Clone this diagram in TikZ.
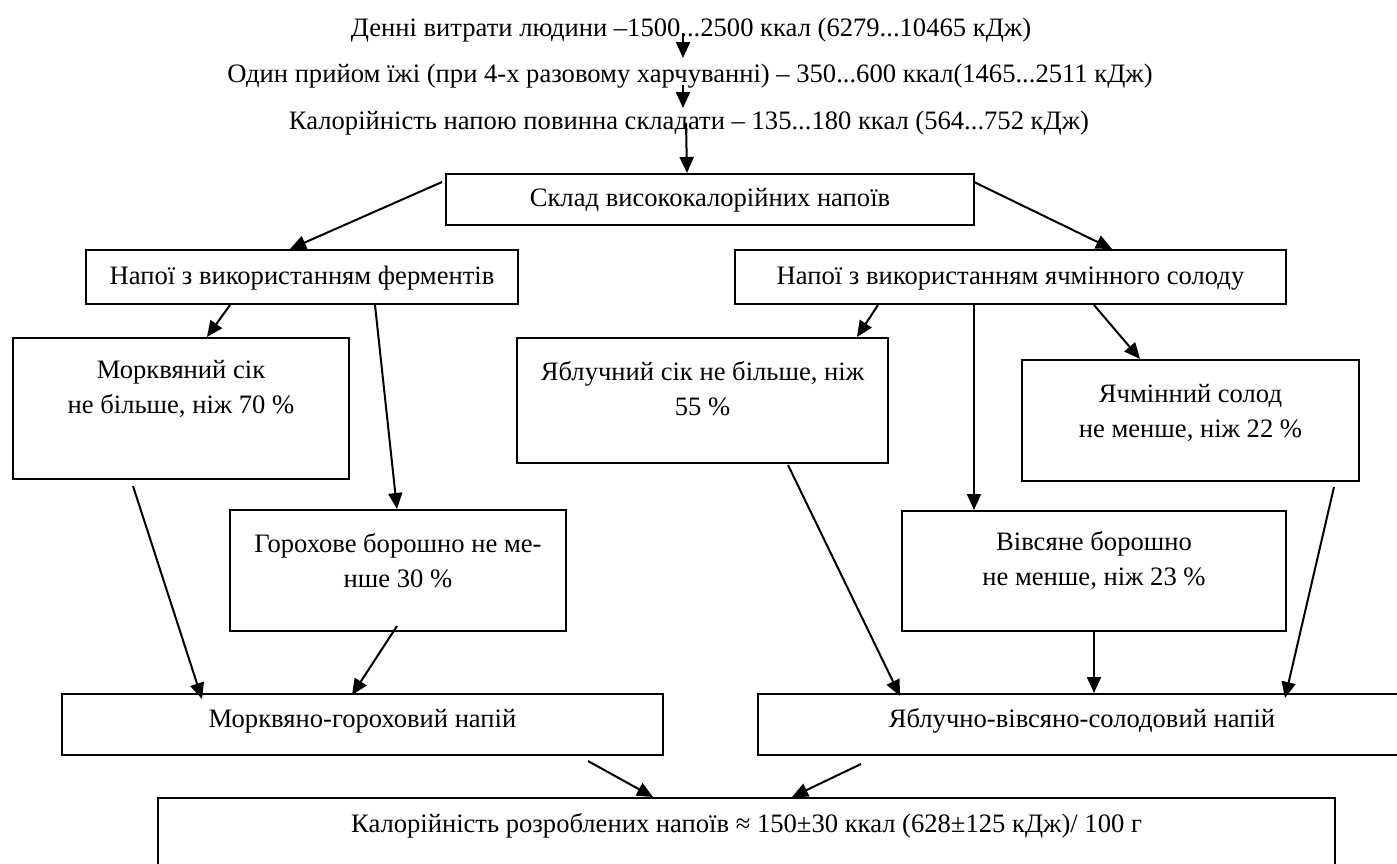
\documentclass[tikz,border=0pt]{standalone}
\usepackage{fontspec}
\setmainfont{Liberation Serif}
\usetikzlibrary{arrows.meta,calc}
\newcommand\dn[1]{\rule[-#1pt]{0pt}{#1pt}}
\begin{document}
\begin{tikzpicture}[x=1pt,y=-1pt,
  basefont/.style={font=\fontsize{26.6}{35}\selectfont, execute at begin node=\strut, execute at end node=\strut},
  box/.style={basefont, draw, line width=2pt, inner sep=0pt, anchor=north west, align=center},
  txt/.style={basefont, inner sep=0pt},
  arr/.style={line width=2pt, -{Triangle[length=16pt,width=14pt]}}]
\useasboundingbox (0,0) rectangle (1397,863);

% top text lines
\node[txt] (t1) at (691,29) {Денні витрати людини –1500...2500 ккал (6279...10465 кДж)};
\node[txt] (t2) at (690,75) {Один прийом їжі (при 4-х разовому харчуванні) – 350...600 ккал(1465...2511 кДж)};
\node[txt] (t3) at (689,122) {Калорійність напою повинна складати – 135...180 ккал (564...752 кДж)};

% boxes
\node[box, minimum width=528, minimum height=51] (skl) at (445,173) {Склад висококалорійних напоїв};
\node[box, minimum width=432, minimum height=54] (ferm) at (85,249) {Напої з використанням ферментів};
\node[box, minimum width=551, minimum height=54] (sol) at (734,249) {Напої з використанням ячмінного солоду};
\node[box, minimum width=336, minimum height=141] (mork) at (12,337) {Морквяний сік\\не більше, ніж 70 \%\dn{44}};
\node[box, minimum width=371, minimum height=125] (yabl) at (516,337) {Яблучний сік не більше, ніж\\55 \%\dn{24}};
\node[box, minimum width=337, minimum height=121] (yachm) at (1021,359) {Ячмінний солод\\не менше, ніж 22 \%\dn{20}};
\node[box, minimum width=336, minimum height=121] (gor) at (229,509) {Горохове борошно не ме-\\нше 30 \%\dn{20}};
\node[box, minimum width=384, minimum height=120] (vivs) at (901,510) {Вівсяне борошно\\не менше, ніж 23 \%\dn{25}};
\node[box, minimum width=601, minimum height=61] (mg) at (61,693) {Морквяно-гороховий напій\dn{18}};
\node[box, minimum width=648, minimum height=61] (yvs) at (757,693) {Яблучно-вівсяно-солодовий напій\dn{18}};
\node[box, minimum width=1177, minimum height=80] (kal) at (157,797) {Калорійність розроблених напоїв ≈ 150±30 ккал (628±125 кДж)/ 100 г\dn{36}};

% connectors
\draw[arr] ($(t1.center)+(-8,4)$) -- ($(t2.center)+(-7,-17)$);
\draw[arr] ($(t2.center)+(-7,10)$) -- ($(t3.center)+(-6,-14)$);
\draw[arr] ($(t3.center)+(-3,1)$) -- ($(skl.north)+(-23,0)$);
\draw[arr] ($(skl.north west)+(-3,9)$) -- ($(ferm.north west)+(205,0)$);
\draw[arr] ($(skl.north east)+(-1,9)$) -- ($(sol.north west)+(378,0)$);
\draw[arr] ($(ferm.south west)+(145,0)$) -- ($(mork.north west)+(195,0)$);
\draw[arr] ($(ferm.south west)+(290,0)$) -- ($(gor.north west)+(168,0)$);
\draw[arr] ($(sol.south west)+(144,0)$) -- ($(yabl.north west)+(341,0)$);
\draw[arr] ($(sol.south west)+(240,0)$) -- ($(vivs.north west)+(73,0)$);
\draw[arr] ($(sol.south west)+(360,0)$) -- ($(yachm.north west)+(119,0)$);
\draw[arr] ($(mork.south west)+(121,6)$) -- ($(mg.north west)+(141,6)$);
\draw[arr] ($(gor.south west)+(168,-6)$) -- ($(mg.north west)+(291,2)$);
\draw[arr] ($(yabl.south west)+(272,1)$) -- ($(yvs.north west)+(143,3)$);
\draw[arr] ($(vivs.south west)+(193,0)$) -- ($(yvs.north west)+(337,0)$);
\draw[arr] ($(yachm.south west)+(313,5)$) -- ($(yvs.north west)+(528,5)$);
\draw[arr] ($(mg.south west)+(527,5)$) -- ($(kal.north west)+(496,0)$);
\draw[arr] ($(yvs.south west)+(104,8)$) -- ($(kal.north west)+(635,0)$);
\end{tikzpicture}
\end{document}
